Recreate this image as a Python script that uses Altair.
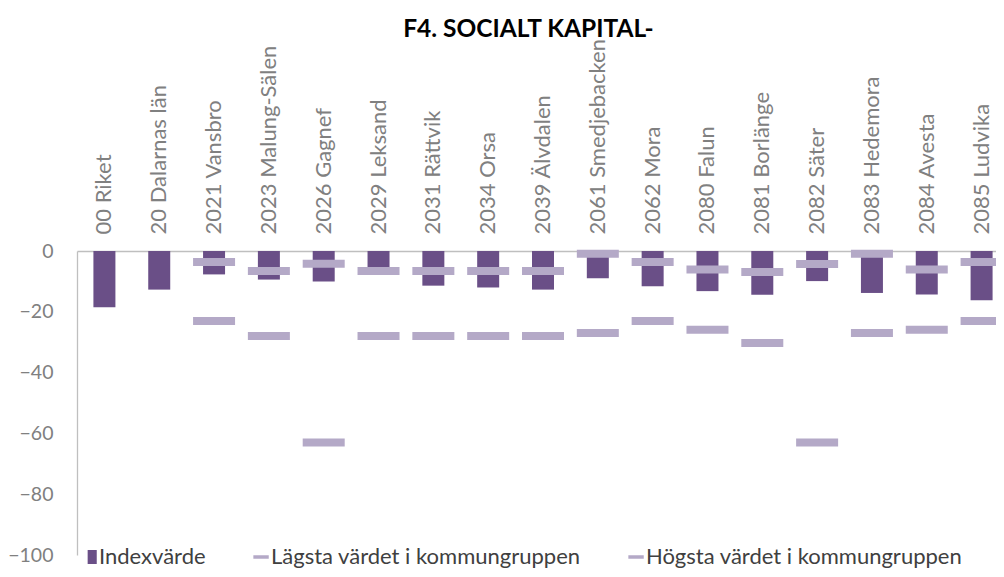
import altair as alt
import pandas as pd

kommuner = ["00 Riket", "20 Dalarnas län", "2021 Vansbro", "2023 Malung-Sälen", "2026 Gagnef",
            "2029 Leksand", "2031 Rättvik", "2034 Orsa", "2039 Älvdalen", "2061 Smedjebacken",
            "2062 Mora", "2080 Falun", "2081 Borlänge", "2082 Säter", "2083 Hedemora",
            "2084 Avesta", "2085 Ludvika"]
indexvarde = [-18.5, -12.7, -7.7, -9.4, -10.0, -7.0, -11.4, -12.0, -12.7, -9.0,
              -11.6, -13.2, -14.4, -9.9, -13.8, -14.3, -16.2]
lagsta = [None, None, -23.0, -28.0, -63.0, -28.0, -28.0, -28.0, -28.0, -27.0,
          -23.0, -25.9, -30.3, -63.0, -27.0, -25.9, -23.0]
hogsta = [None, None, -3.6, -6.6, -4.2, -6.6, -6.6, -6.6, -6.6, -0.9,
          -3.6, -6.1, -6.9, -4.3, -0.9, -6.1, -3.6]
serier = ["Indexvärde", "Lägsta värdet i kommungruppen", "Högsta värdet i kommungruppen"]
y_ticks = [0, -20, -40, -60, -80, -100]

DARK = "#6a4f87"
LIGHT = "#b4a9c7"
GRAY = "#808080"
FONT = "Lato"

rows = []
for i, k in enumerate(kommuner):
    rows.append({"kommun": k, "serie": serier[0], "value": indexvarde[i]})
    if lagsta[i] is not None:
        rows.append({"kommun": k, "serie": serier[1], "value": lagsta[i]})
    if hogsta[i] is not None:
        rows.append({"kommun": k, "serie": serier[2], "value": hogsta[i]})
df = pd.DataFrame(rows)
df_legend = pd.DataFrame({"serie": serier})

x_enc = alt.X("kommun:N", sort=kommuner, title=None,
              scale=alt.Scale(paddingInner=0, paddingOuter=0, range=[0, 932]),
              axis=alt.Axis(orient="top", labelAngle=-90, labelAlign="left", labelBaseline="middle",
                            labelPadding=17, ticks=False, tickSize=0, labelFontSize=22,
                            labelColor=GRAY, labelFont=FONT, domainColor="#bfbfbf",
                            domainWidth=1.3, labelOverlap=False, labelLimit=400))
y_enc = alt.Y("value:Q", title=None,
              scale=alt.Scale(domain=[-100, 0], nice=False),
              axis=alt.Axis(values=y_ticks, grid=False, ticks=False, tickSize=0, labelPadding=24,
                            labelFontSize=19.5, labelColor=GRAY, labelFont=FONT,
                            domainColor="#bfbfbf", domainWidth=1.3, format="d"))

bars = alt.Chart(df).transform_filter(alt.datum.serie == serier[0]).mark_bar(
    size=22, color=DARK).encode(x=x_enc, y=y_enc)

ticks = alt.Chart(df).transform_filter(alt.datum.serie != serier[0]).mark_tick(
    size=42, thickness=8, color=LIGHT, opacity=1).encode(x=x_enc, y=y_enc)

shape_range = ["M-0.05,-1H1.25V1H-0.05Z", "M-0.95,-0.25H1.25V0.25H-0.95Z", "M-0.95,-0.25H1.25V0.25H-0.95Z"]
legend_props = dict(orient="none", legendX=0, legendY=295, direction="horizontal", title=None,
                    labelFontSize=22, labelFont=FONT, labelColor="#404040", symbolSize=196,
                    symbolStrokeWidth=0, labelOffset=0, columnPadding=43, labelLimit=500)
legend_layer = alt.Chart(df_legend).transform_filter("false").mark_point(filled=True, opacity=1).encode(
    color=alt.Color("serie:N", scale=alt.Scale(domain=serier, range=[DARK, LIGHT, LIGHT]),
                    legend=alt.Legend(**legend_props)),
    shape=alt.Shape("serie:N", scale=alt.Scale(domain=serier, range=shape_range),
                    legend=alt.Legend(**legend_props)),
)

chart = alt.layer(bars, ticks, legend_layer).properties(
    width=919, height=304,
    title=alt.TitleParams("F4. SOCIALT KAPITAL-", font=FONT, fontSize=24.5, fontWeight="bold",
                          color="#000000", anchor="middle", dx=-8, dy=8),
    autosize=alt.AutoSizeParams(type="none"),
    padding={"left": 69, "top": 243, "right": 0, "bottom": 14},
).configure_view(stroke=None)

chart.save("out.html", embed_options={"renderer": "svg", "actions": False})
